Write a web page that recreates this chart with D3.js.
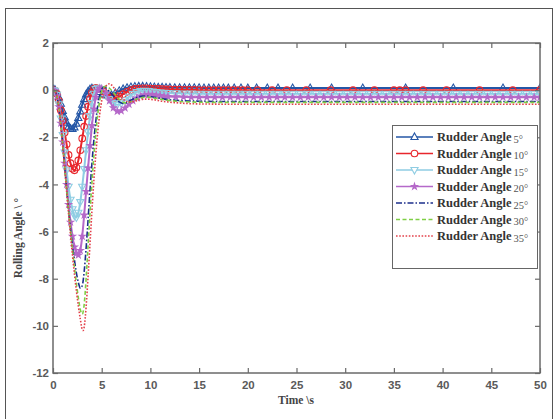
<!DOCTYPE html>
<html><head><meta charset="utf-8">
<script src="https://cdn.jsdelivr.net/npm/d3@7"></script>
<style>html,body{margin:0;padding:0;background:#fff;}svg{display:block;}</style>
</head><body>
<svg id="chart" width="558" height="419"></svg>
<script>
// ---- data ----
const xTicks = [0,5,10,15,20,25,30,35,40,45,50];
const yTicks = [-12,-10,-8,-6,-4,-2,0,2];
const seriesNames = ["Rudder Angle","Rudder Angle","Rudder Angle","Rudder Angle","Rudder Angle","Rudder Angle","Rudder Angle"];
const seriesAngles = ["5°","10°","15°","20°","25°","30°","35°"];

const s5 = [[0,0.05],[0.2,0.02],[0.4,-0.1],[0.6,-0.3],[0.8,-0.58],[1.0,-0.88],[1.2,-1.15],[1.4,-1.38],[1.6,-1.55],[1.8,-1.63],[2.0,-1.65],[2.2,-1.58],[2.4,-1.42],[2.6,-1.18],[2.8,-0.9],[3.0,-0.62],[3.2,-0.38],[3.4,-0.18],[3.6,-0.05],[3.8,0.04],[4.0,0.08],
[4.4,0.04],[4.8,-0.08],[5.2,-0.18],[5.6,-0.22],[6.0,-0.2],[6.4,-0.12],[6.8,-0.03],[7.2,0.05],[7.6,0.1],[8.0,0.13],[8.4,0.15],[8.8,0.16],[9.2,0.16],[9.6,0.15],[10.0,0.14],[10.4,0.13],[10.8,0.12],[11.2,0.12],[11.6,0.11],[12.0,0.11],
[12.5,0.1],[13.0,0.1],[13.5,0.1],[14.0,0.1],[14.5,0.1],[15.0,0.1],[15.5,0.09],[16.0,0.09],[16.5,0.09],[17.0,0.09],[17.5,0.09],[18.0,0.09],
[18.6,0.09],[19.3,0.09],[20.0,0.09],[20.9,0.09],[22.0,0.09],[23.1,0.09],[24.6,0.09],[26.4,0.09],[28.6,0.09],[31.8,0.09],[36.2,0.09],[41.1,0.09],[46.2,0.09],[50,0.09]];

const s10 = [[0,0.0],[0.2,-0.02],[0.4,-0.15],[0.6,-0.45],[0.8,-0.85],[1.0,-1.3],[1.2,-1.8],[1.4,-2.3],[1.6,-2.75],[1.8,-3.1],[2.0,-3.33],[2.2,-3.4],[2.4,-3.28],[2.6,-2.98],[2.8,-2.55],[3.0,-2.05],[3.2,-1.55],[3.4,-1.1],[3.6,-0.7],[3.8,-0.36],[4.0,-0.1],[4.2,0.05],[4.4,0.1],
[4.8,0.06],[5.2,-0.06],[5.6,-0.2],[6.0,-0.3],[6.4,-0.33],[6.8,-0.27],[7.2,-0.17],[7.6,-0.07],[8.0,0.0],[8.4,0.05],[8.8,0.07],[9.2,0.08],[9.6,0.08],[10.0,0.07],[10.4,0.06],[10.8,0.05],[11.2,0.04],[11.6,0.03],[12.0,0.03],
[12.5,0.02],[13.0,0.02],[13.5,0.01],[14.0,0.01],[14.5,0.01],[15.0,0.0],[15.5,0.0],[16.0,0.0],[16.5,0.0],[17.0,0.0],[17.5,0.0],[18.0,0.0],[18.5,0.0],[19.0,0.0],[19.5,0.0],[20.0,0.0],
[21.0,0.0],[22.5,0.0],[24.0,0.0],[26.0,0.0],[28.5,0.0],[30.8,0.0],[33.0,0.0],[35.0,0.0],[35.6,0.0],[36.2,0.0],[38.0,0.0],[40.4,0.0],[43.8,0.0],[47.2,0.0],[50,0.0]];

const s15 = [[0,0.0],[0.2,-0.03],[0.4,-0.2],[0.6,-0.6],[0.8,-1.2],[1.0,-1.9],[1.2,-2.65],[1.4,-3.4],[1.6,-4.1],[1.8,-4.65],[2.0,-5.05],[2.2,-5.32],[2.4,-5.4],[2.6,-5.2],[2.8,-4.75],[3.0,-4.1],[3.2,-3.35],[3.4,-2.55],[3.6,-1.78],[3.8,-1.1],[4.0,-0.55],[4.2,-0.15],[4.4,0.05],[4.6,0.1],
[5.0,0.05],[5.4,-0.15],[5.8,-0.38],[6.2,-0.55],[6.6,-0.62],[7.0,-0.56],[7.4,-0.43],[7.8,-0.28],[8.2,-0.16],[8.6,-0.08],[9.0,-0.04],[9.4,-0.03],[9.8,-0.04],[10.2,-0.06],[10.6,-0.08],[11.0,-0.1],[11.4,-0.11],[11.8,-0.12],
[12.6,-0.13],[13.4,-0.14],[14.2,-0.14],[15.0,-0.15],[15.8,-0.15],[16.6,-0.15],[17.4,-0.15],[18.2,-0.15],[19.0,-0.15],[19.8,-0.15],[20.6,-0.15],[21.4,-0.15],[22.2,-0.15],[23.0,-0.15],[23.8,-0.15],[24.6,-0.15],[25.4,-0.15],[26.2,-0.15],[27.0,-0.15],[27.8,-0.15],[28.6,-0.15],[29.4,-0.15],[30.2,-0.15],[31.0,-0.15],[31.8,-0.15],[32.6,-0.15],[33.4,-0.15],[34.2,-0.15],[35.0,-0.15],[35.8,-0.15],[36.6,-0.15],[37.4,-0.15],[38.2,-0.15],[39.0,-0.15],[39.8,-0.15],[40.6,-0.15],[41.4,-0.15],[42.2,-0.15],[43.0,-0.15],[43.8,-0.15],[44.6,-0.15],[45.4,-0.15],[46.2,-0.15],[47.0,-0.15],[47.8,-0.15],[48.6,-0.15],[49.4,-0.15],[50,-0.15]];

const s20 = [[0,0.0],[0.2,-0.04],[0.4,-0.25],[0.6,-0.7],[0.8,-1.4],[1.0,-2.2],[1.2,-3.1],[1.4,-4.0],[1.6,-4.85],[1.8,-5.6],[2.0,-6.2],[2.2,-6.65],[2.4,-6.92],[2.6,-7.0],[2.8,-6.8],[3.0,-6.2],[3.2,-5.3],[3.4,-4.3],[3.6,-3.3],[3.8,-2.35],[4.0,-1.5],[4.2,-0.8],[4.4,-0.3],[4.6,0.0],[4.8,0.08],[5.0,0.06],
[5.4,-0.12],[5.8,-0.45],[6.2,-0.75],[6.6,-0.9],[7.0,-0.88],[7.4,-0.76],[7.8,-0.6],[8.2,-0.45],[8.6,-0.33],[9.0,-0.25],[9.4,-0.2],[9.8,-0.18],[10.2,-0.19],[10.6,-0.21],[11.0,-0.23],[11.4,-0.25],[11.8,-0.27],
[12.6,-0.28],[13.4,-0.29],[14.2,-0.3],[15.0,-0.3],[15.8,-0.3],[16.6,-0.3],[17.4,-0.3],[18.2,-0.3],[19.0,-0.3],[19.8,-0.3],[20.6,-0.3],[21.4,-0.3],[22.2,-0.3],[23.0,-0.3],[23.8,-0.3],[24.6,-0.3],[25.4,-0.3],[26.2,-0.3],[27.0,-0.3],[27.8,-0.3],[28.6,-0.3],[29.4,-0.3],[30.2,-0.3],[31.0,-0.3],[31.8,-0.3],[32.6,-0.3],[33.4,-0.3],[34.2,-0.3],[35.0,-0.3],[35.8,-0.3],[36.6,-0.3],[37.4,-0.3],[38.2,-0.3],[39.0,-0.3],[39.8,-0.3],[40.6,-0.3],[41.4,-0.3],[42.2,-0.3],[43.0,-0.3],[43.8,-0.3],[44.6,-0.3],[45.4,-0.3],[46.2,-0.3],[47.0,-0.3],[47.8,-0.3],[48.6,-0.3],[49.4,-0.3],[50,-0.3]];

const s25 = [[0,0.0],[0.2,-0.04],[0.4,-0.26],[0.6,-0.72],[0.8,-1.45],[1.0,-2.3],[1.2,-3.25],[1.4,-4.2],[1.6,-5.1],[1.8,-5.9],[2.0,-6.6],[2.2,-7.2],[2.4,-7.75],[2.6,-8.15],[2.8,-8.4],[3.0,-8.3],[3.2,-7.7],[3.4,-6.7],[3.6,-5.5],[3.8,-4.25],[4.0,-3.1],[4.2,-2.1],[4.4,-1.3],[4.6,-0.65],[4.8,-0.2],[5.0,0.05],[5.2,0.12],[5.4,0.1],[5.6,0.02],
[6.0,-0.15],[6.4,-0.35],[6.8,-0.5],[7.2,-0.56],[7.6,-0.52],[8.0,-0.43],[8.4,-0.34],[8.8,-0.28],[9.2,-0.25],[9.6,-0.25],[10.0,-0.27],[10.4,-0.3],[10.8,-0.33],[11.2,-0.36],[11.6,-0.39],[12.0,-0.41],[13,-0.44],[14,-0.46],[15,-0.47],[17,-0.48],[20,-0.48],[25,-0.48],[30,-0.48],[35,-0.48],[40,-0.48],[45,-0.48],[50,-0.48]];

const s30 = [[0,0.0],[0.2,-0.04],[0.4,-0.26],[0.6,-0.72],[0.8,-1.45],[1.0,-2.3],[1.2,-3.25],[1.4,-4.2],[1.6,-5.1],[1.8,-5.95],[2.0,-6.75],[2.2,-7.5],[2.4,-8.2],[2.6,-8.8],[2.8,-9.3],[3.0,-9.5],[3.2,-9.1],[3.4,-8.0],[3.6,-6.6],[3.8,-5.2],[4.0,-3.9],[4.2,-2.75],[4.4,-1.8],[4.6,-1.0],[4.8,-0.45],[5.0,-0.05],[5.2,0.12],[5.4,0.16],[5.6,0.14],[5.8,0.08],
[6.2,-0.1],[6.6,-0.3],[7.0,-0.46],[7.4,-0.54],[7.8,-0.52],[8.2,-0.45],[8.6,-0.38],[9.0,-0.33],[9.4,-0.3],[9.8,-0.3],[10.2,-0.32],[10.6,-0.35],[11.0,-0.38],[11.6,-0.42],[12.2,-0.45],[13,-0.48],[14,-0.5],[15,-0.51],[17,-0.52],[20,-0.52],[25,-0.52],[30,-0.52],[35,-0.52],[40,-0.52],[45,-0.52],[50,-0.52]];

const s35 = [[0,0.0],[0.2,-0.04],[0.4,-0.27],[0.6,-0.75],[0.8,-1.5],[1.0,-2.4],[1.2,-3.35],[1.4,-4.3],[1.6,-5.25],[1.8,-6.15],[2.0,-7.0],[2.2,-7.8],[2.4,-8.5],[2.6,-9.15],[2.8,-9.7],[3.0,-10.15],[3.1,-10.2],[3.2,-10.05],[3.4,-9.2],[3.6,-7.9],[3.8,-6.5],[4.0,-5.1],[4.2,-3.8],[4.4,-2.7],[4.6,-1.75],[4.8,-1.0],[5.0,-0.45],[5.2,-0.05],[5.4,0.15],[5.6,0.24],[5.8,0.27],[6.0,0.22],
[6.4,0.02],[6.8,-0.2],[7.2,-0.38],[7.6,-0.48],[8.0,-0.5],[8.4,-0.47],[8.8,-0.42],[9.2,-0.39],[9.6,-0.38],[10.0,-0.39],[10.4,-0.41],[10.8,-0.44],[11.2,-0.47],[11.8,-0.5],[12.5,-0.53],[13.5,-0.56],[14.5,-0.58],[16,-0.59],[18,-0.6],[20,-0.6],[25,-0.6],[30,-0.6],[35,-0.6],[40,-0.6],[45,-0.6],[50,-0.6]];

const seriesData = [s5, s10, s15, s20, s25, s30, s35];

// ---- styles ----
const styles = [
  {color:"#2456a6", width:2.0, dash:null, marker:"triUp"},
  {color:"#e8262c", width:2.0, dash:null, marker:"circle"},
  {color:"#8fcde3", width:2.0, dash:null, marker:"triDown"},
  {color:"#b569c9", width:2.0, dash:null, marker:"star"},
  {color:"#1c2f8c", width:1.6, dash:"6,2,1.5,2", marker:null},
  {color:"#7fcf45", width:1.6, dash:"4,2.5", marker:null},
  {color:"#e3414b", width:1.6, dash:"1.6,1.6", marker:null}
];

const svg = d3.select("#chart");
const x = d3.scaleLinear().domain([0,50]).range([53,540]);
const y = d3.scaleLinear().domain([-12,2]).range([373,43]);

// outer frame
svg.append("rect").attr("x",5.5).attr("y",8.5).attr("width",547).attr("height",430)
  .attr("fill","none").attr("stroke","#555").attr("stroke-width",1);

// clip
svg.append("clipPath").attr("id","clip").append("rect")
  .attr("x",53).attr("y",43).attr("width",487).attr("height",330);

const line = d3.line().x(d=>x(d[0])).y(d=>y(d[1])).curve(d3.curveMonotoneX);

const plot = svg.append("g").attr("clip-path","url(#clip)");

function markerPath(type){
  if(type==="triUp") return "M0,-4L3.6,2.5L-3.6,2.5Z";
  if(type==="triDown") return "M0,4L3.6,-2.5L-3.6,-2.5Z";
  if(type==="circle") return d3.symbol(d3.symbolCircle, 34)();
  if(type==="star") return d3.symbol(d3.symbolStar, 11)();
  return null;
}

seriesData.forEach((data,i)=>{
  const st = styles[i];
  plot.append("path").datum(data)
    .attr("fill","none").attr("stroke",st.color).attr("stroke-width",st.width)
    .attr("stroke-dasharray",st.dash).attr("d",line);
  if(st.marker){
    const mp = markerPath(st.marker);
    plot.append("g").selectAll("path").data(data).join("path")
      .attr("transform",d=>`translate(${x(d[0])},${y(d[1])})`)
      .attr("d",mp)
      .attr("fill", st.marker==="star" ? st.color : "none")
      .attr("stroke",st.color).attr("stroke-width",1.1);
  }
});

// axes
const axisColor = "#6a6a6a";
const gB = svg.append("g").attr("transform","translate(0,373)")
  .call(d3.axisBottom(x).tickValues(xTicks).tickFormat(d=>String(d)).tickSizeInner(-5).tickSizeOuter(0).tickPadding(8));
const gT = svg.append("g").attr("transform","translate(0,43)")
  .call(d3.axisTop(x).tickValues(xTicks).tickFormat("").tickSizeInner(-5).tickSizeOuter(0));
const gL = svg.append("g").attr("transform","translate(53,0)")
  .call(d3.axisLeft(y).tickValues(yTicks).tickFormat(d=>String(d)).tickSizeInner(-5).tickSizeOuter(0).tickPadding(4));
const gR = svg.append("g").attr("transform","translate(540,0)")
  .call(d3.axisRight(y).tickValues(yTicks).tickFormat("").tickSizeInner(-5).tickSizeOuter(0));
[gB,gT,gL,gR].forEach(g=>{
  g.select(".domain").remove();
  g.selectAll(".tick line").attr("stroke",axisColor).attr("stroke-width",1.2);
  g.selectAll(".tick text").attr("fill","#5a5a5a").attr("font-family","Liberation Sans, Arial, sans-serif")
    .attr("font-size",11.5).attr("font-weight","bold");
});
svg.append("rect").attr("x",53).attr("y",43).attr("width",487).attr("height",330)
  .attr("fill","none").attr("stroke",axisColor).attr("stroke-width",1.5);

// axis titles
svg.append("text").attr("x",296).attr("y",404).attr("text-anchor","middle")
  .attr("font-family","Liberation Serif, Times New Roman, serif").attr("font-weight","bold")
  .attr("font-size",11.5).attr("fill","#444").text("Time \\s");
svg.append("text").attr("transform","translate(22,238) rotate(-90)").attr("text-anchor","middle")
  .attr("font-family","Liberation Serif, Times New Roman, serif").attr("font-weight","bold")
  .attr("font-size",11.5).attr("fill","#444").text("Rolling Angle \\ °");

// legend
const lg = svg.append("g");
lg.append("rect").attr("x",392.5).attr("y",125.5).attr("width",145).attr("height",143)
  .attr("fill","#fff").attr("stroke","#666").attr("stroke-width",1);
seriesAngles.forEach((a,i)=>{
  const st = styles[i];
  const yy = 137 + i*16.5;
  lg.append("line").attr("x1",396).attr("x2",433).attr("y1",yy).attr("y2",yy)
    .attr("stroke",st.color).attr("stroke-width",st.dash?1.4:1.6).attr("stroke-dasharray",st.dash);
  if(st.marker){
    lg.append("path").attr("transform",`translate(414.5,${yy})`).attr("d",markerPath(st.marker))
      .attr("fill", st.marker==="star" ? st.color : "#fff").attr("stroke",st.color).attr("stroke-width",1.1);
  }
  const t = lg.append("text").attr("x",437).attr("y",yy+4)
    .attr("font-family","Liberation Serif, Times New Roman, serif").attr("fill","#333");
  t.append("tspan").attr("font-weight","bold").attr("font-size",12.5).text(seriesNames[i]);
  t.append("tspan").attr("font-size",10.5).attr("fill","#555").attr("dx",2).attr("dy",1.5).text(a);
});
</script>
</body></html>
